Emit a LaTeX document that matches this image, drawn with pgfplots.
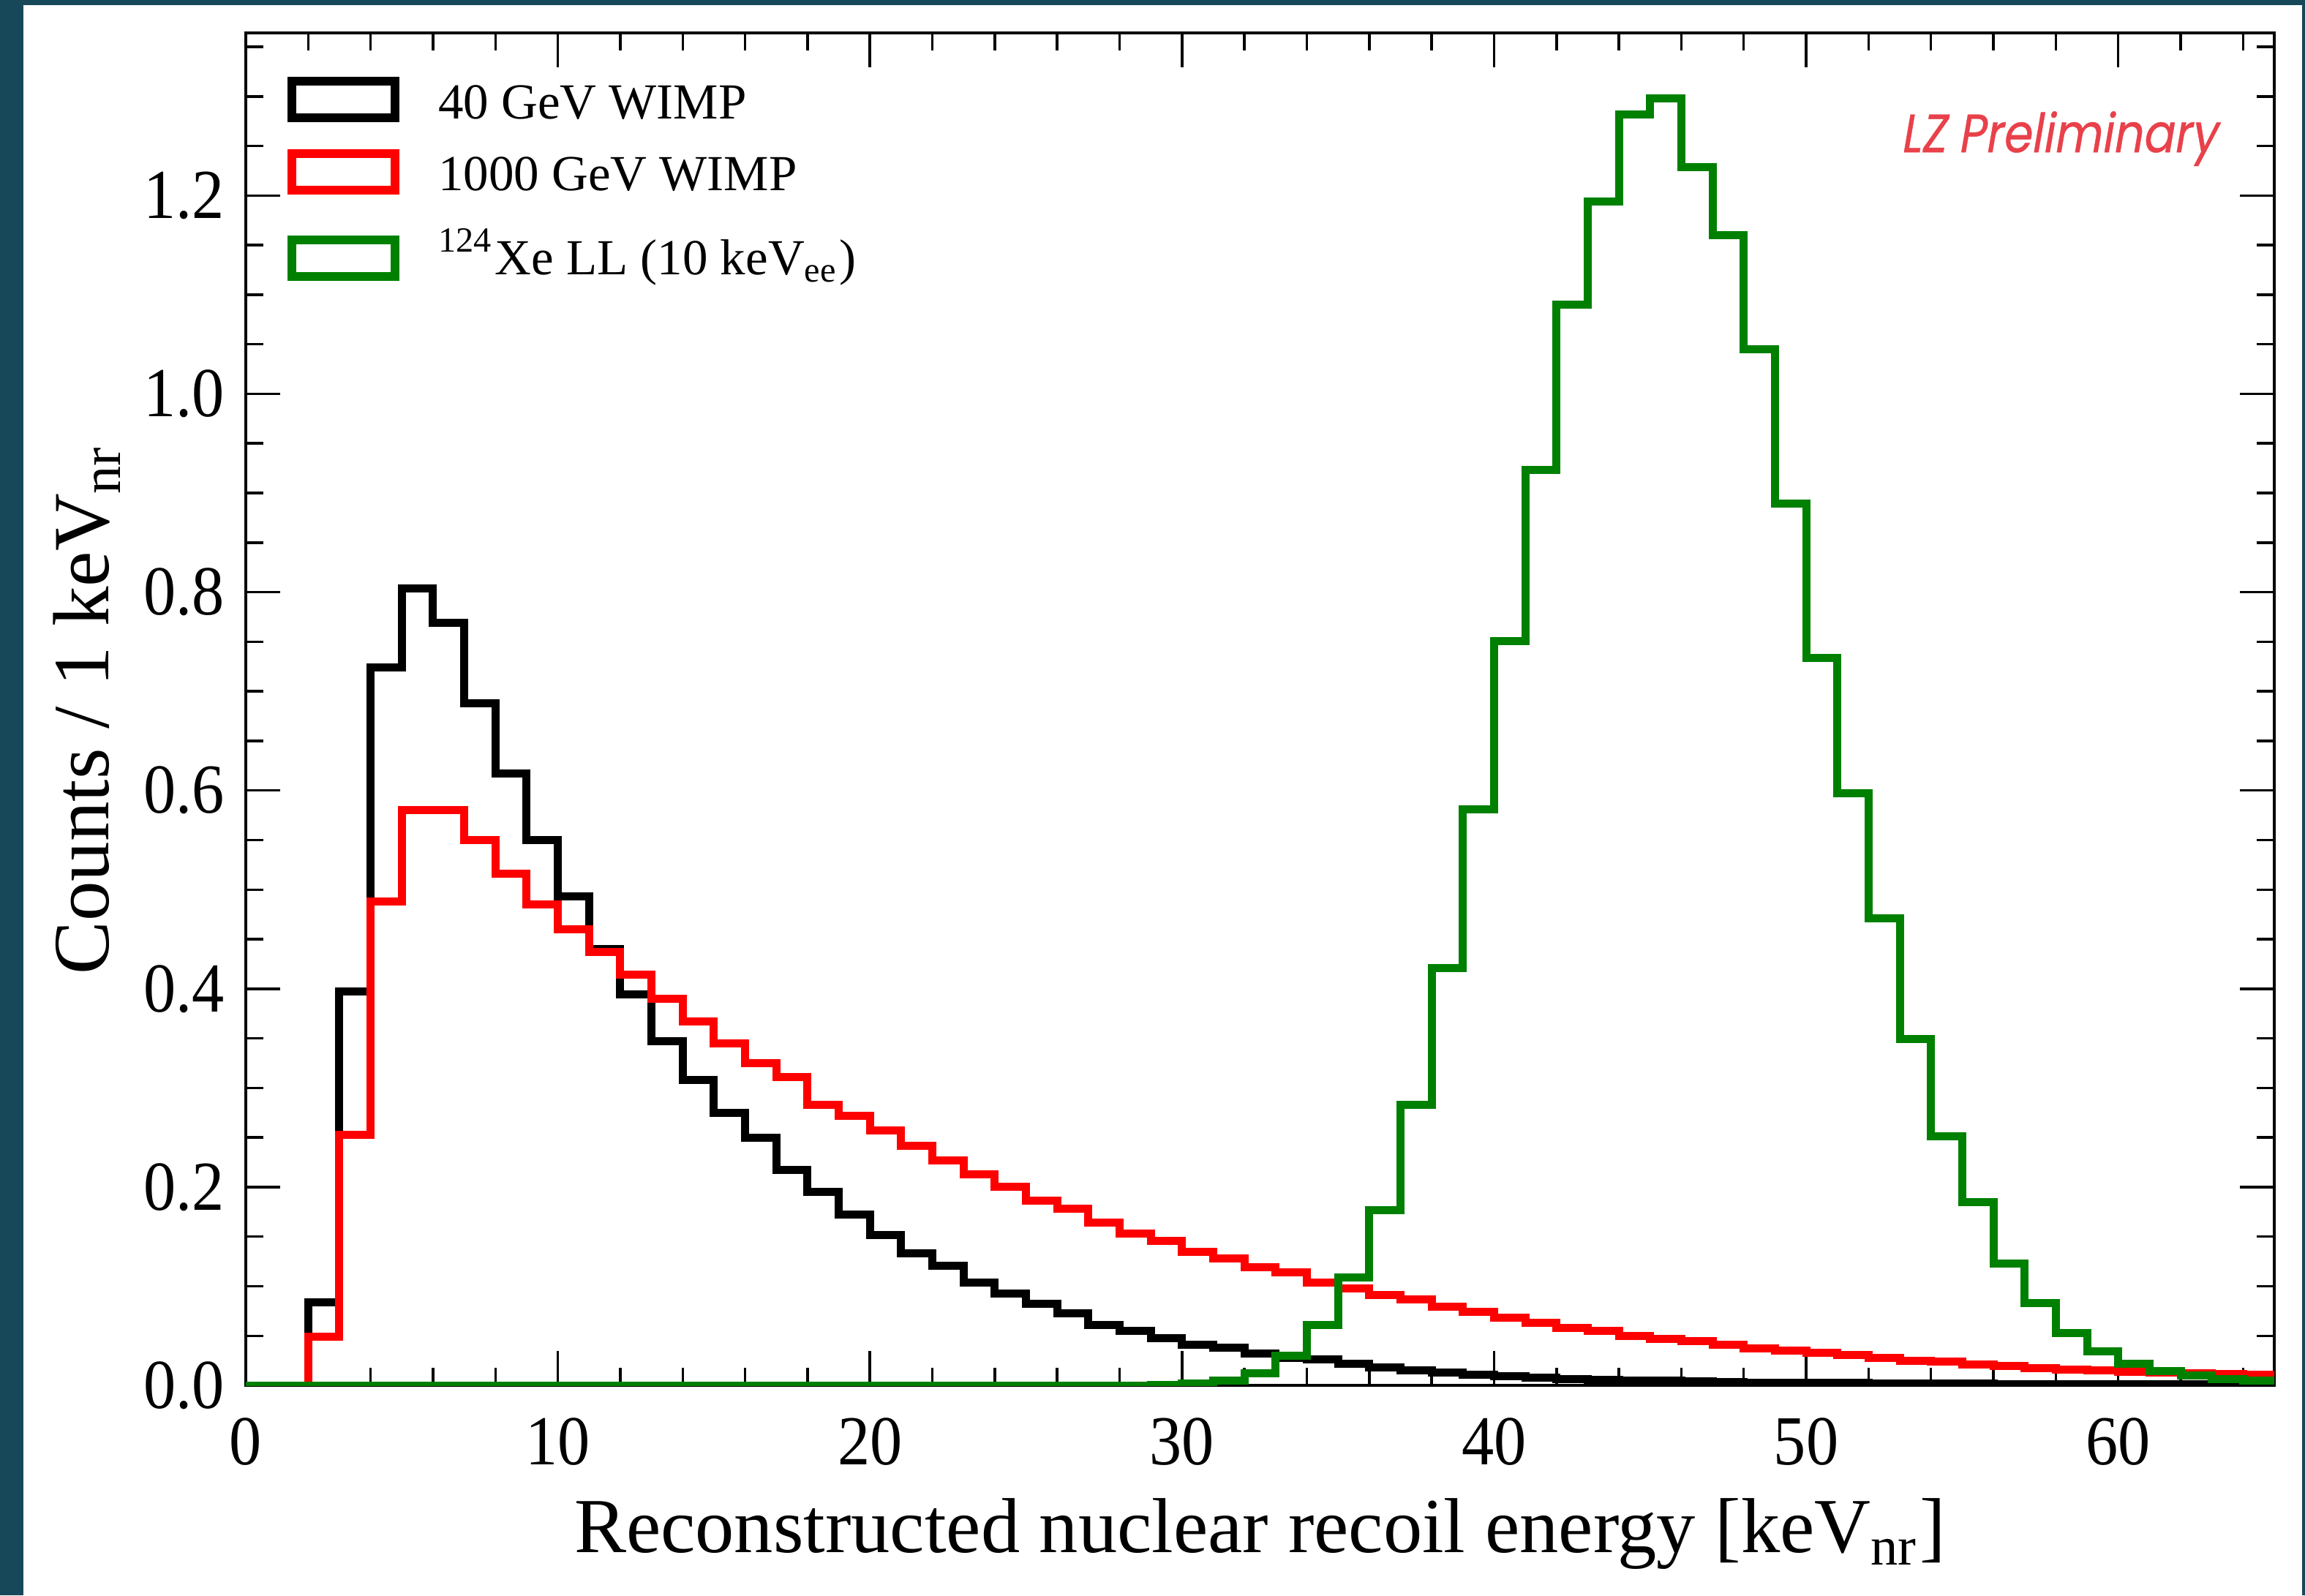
\documentclass[border=0pt]{standalone}
\usepackage{fontspec}
\setmainfont{Liberation Serif}
\newfontfamily\tickfont[FakeStretch=0.92]{Liberation Serif}
\newfontfamily\lzfont[FakeSlant=0.2, FakeBold=0.6]{Poppins}
\usepackage{pgfplots}
\usepackage{pgfplotstable}
\pgfplotsset{compat=1.18}
\definecolor{bordercol}{RGB}{22,72,89}
\definecolor{lzred}{RGB}{232,65,74}
\definecolor{hgreen}{RGB}{0,128,0}
\definecolor{hred}{RGB}{255,0,0}

\pgfplotstableread{
x y
1 0
2 0.084
3 0.397
4 0.724
5 0.804
6 0.769
7 0.688
8 0.617
9 0.550
10 0.493
11 0.440
12 0.394
13 0.347
14 0.308
15 0.275
16 0.250
17 0.217
18 0.195
19 0.172
20 0.152
21 0.133
22 0.121
23 0.104
24 0.093
25 0.082
26 0.073
27 0.061
28 0.055
29 0.048
30 0.041
31 0.038
32 0.032
33 0.028
34 0.026
35 0.022
36 0.018
37 0.015
38 0.013
39 0.011
40 0.0095
41 0.008
42 0.0065
43 0.0055
44 0.005
45 0.0045
46 0.004
47 0.0035
48 0.003
49 0.003
50 0.0027
51 0.0025
52 0.0022
53 0.002
54 0.0018
55 0.0016
56 0.0015
57 0.0013
58 0.0012
59 0.0011
60 0.001
61 0.0009
62 0.0008
63 0.0008
64 0.0007
65 0.0007
}\blacktab

\pgfplotstableread{
x y
1 0
2 0.049
3 0.253
4 0.488
5 0.580
6 0.580
7 0.550
8 0.516
9 0.485
10 0.460
11 0.437
12 0.414
13 0.390
14 0.367
15 0.345
16 0.325
17 0.311
18 0.283
19 0.272
20 0.257
21 0.242
22 0.227
23 0.213
24 0.200
25 0.186
26 0.178
27 0.164
28 0.153
29 0.146
30 0.135
31 0.128
32 0.119
33 0.114
34 0.104
35 0.098
36 0.091
37 0.087
38 0.079
39 0.074
40 0.068
41 0.063
42 0.058
43 0.055
44 0.050
45 0.047
46 0.045
47 0.041
48 0.037
49 0.035
50 0.033
51 0.031
52 0.028
53 0.025
54 0.024
55 0.021
56 0.0195
57 0.0175
58 0.016
59 0.015
60 0.0135
61 0.013
62 0.012
63 0.0115
64 0.011
65 0.011
}\redtab

\pgfplotstableread{
x y
0 0
29 0.0005
30 0.002
31 0.005
32 0.0125
33 0.030
34 0.061
35 0.109
36 0.177
37 0.283
38 0.421
39 0.581
40 0.751
41 0.923
42 1.090
43 1.194
44 1.282
45 1.298
46 1.229
47 1.160
48 1.045
49 0.889
50 0.734
51 0.597
52 0.471
53 0.349
54 0.251
55 0.185
56 0.123
57 0.083
58 0.053
59 0.034
60 0.022
61 0.0145
62 0.0100
63 0.006
64 0.005
65 0.005
}\greentab

\begin{document}
\begin{tikzpicture}
\fill[bordercol] (-33.6pt,-28.7pt) rectangle (281.5pt,189.4pt);
\fill[white] (-30.4pt,-28.7pt) rectangle (281.1pt,188.7pt);
\begin{axis}[
  at={(0,0)}, anchor=south west,
  scale only axis, width=277.3pt, height=184.9pt,
  xmin=0, xmax=65, ymin=0, ymax=1.364,
  xtick={0,10,20,30,40,50,60},
  ytick={0,0.2,0.4,0.6,0.8,1.0,1.2},
  minor xtick={2,4,6,8,12,14,16,18,22,24,26,28,32,34,36,38,42,44,46,48,52,54,56,58,62,64},
  minor ytick={0.05,0.1,0.15,0.25,0.3,0.35,0.45,0.5,0.55,0.65,0.7,0.75,0.85,0.9,0.95,1.05,1.1,1.15,1.25,1.3,1.35},
  tick align=inside,
  major tick length=4.7pt, minor tick length=2.4pt,
  axis line style={line width=0.4pt},
  every tick/.style={black, line width=0.35pt},
  tick label style={font=\tickfont\fontsize{9.6}{11}\selectfont},
  /pgf/number format/assume math mode=true,
  yticklabel style={/pgf/number format/fixed, /pgf/number format/fixed zerofill, /pgf/number format/precision=1},
  xticklabel shift=0.9pt, yticklabel shift=-0.6pt,
  xlabel={Reconstructed nuclear recoil energy [keV\textsubscript{nr}]},
  ylabel={Counts / 1 keV\textsubscript{nr}},
  xlabel style={font=\fontsize{10.65}{12}\selectfont, at={(axis description cs:0.5,-0.1238)}, anchor=base},
  ylabel style={font=\fontsize{10.9}{12}\selectfont, at={(axis description cs:-0.0678,0.5)}, anchor=base},
]
\addplot[black, line width=1.1pt, line join=miter, const plot mark left, mark=none] table[x=x,y=y] {\blacktab};
\addplot[hred, line width=1.1pt, line join=miter, const plot mark left, mark=none] table[x=x,y=y] {\redtab};
\addplot[hgreen, line width=1.1pt, line join=miter, const plot mark left, mark=none] table[x=x,y=y] {\greentab};
\end{axis}
% legend
\draw[black, line width=1.2pt, line join=miter] (6.3pt,173.3pt) rectangle (20.4pt,178.3pt);
\draw[hred, line width=1.2pt, line join=miter] (6.3pt,163.4pt) rectangle (20.4pt,168.4pt);
\draw[hgreen, line width=1.2pt, line join=miter] (6.3pt,151.6pt) rectangle (20.4pt,156.6pt);
\node[anchor=base west, inner sep=0] at (26.1pt,173.2pt) {\fontsize{6.9}{8}\selectfont 40 GeV WIMP};
\node[anchor=base west, inner sep=0] at (26.1pt,163.4pt) {\fontsize{6.9}{8}\selectfont 1000 GeV WIMP};
\node[anchor=base west, inner sep=0] at (26.1pt,151.9pt) {\fontsize{6.9}{8}\selectfont \textsuperscript{124}Xe LL (10 keV\textsubscript{ee})};
\node[anchor=base west, inner sep=0, text=lzred] at (226pt,168.6pt) {\resizebox{43.2pt}{5.6pt}{\lzfont LZ Preliminary}};
\pgfresetboundingbox
\path[use as bounding box] (-33.6pt,-28.7pt) rectangle (281.5pt,189.4pt);
\end{tikzpicture}
\end{document}
